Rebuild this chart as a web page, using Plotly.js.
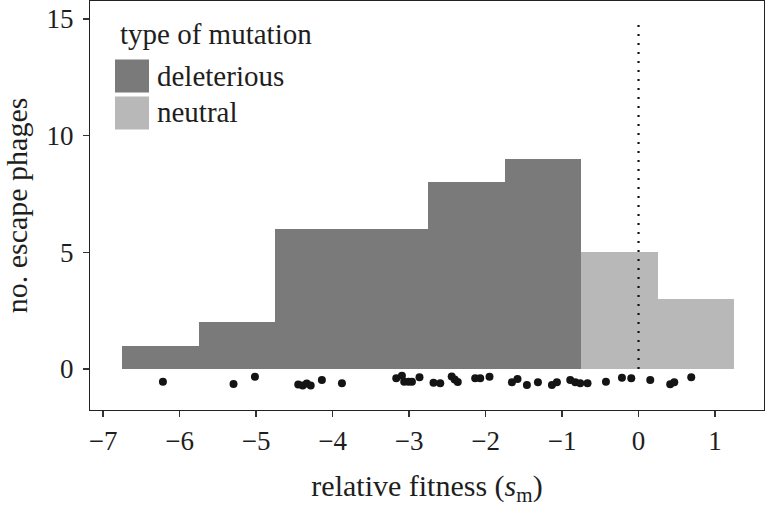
<!DOCTYPE html>
<html>
<head>
<meta charset="utf-8">
<script src="https://cdn.plot.ly/plotly-3.0.1.min.js"></script>
<style>html,body{margin:0;padding:0;background:#fff;}#chart{width:765px;height:509px;}</style>
</head>
<body>
<div id="chart"></div>
<script>
// relative fitness of each escape phage
var deleteriousFitness = [-6.217, -5.294, -5.014, -4.448, -4.390, -4.337, -4.285, -4.139, -3.877,
  -3.167, -3.093, -3.063, -3.007, -2.962, -2.863, -2.680, -2.592, -2.442, -2.403, -2.363,
  -2.135, -2.069, -1.948, -1.655, -1.582, -1.459, -1.315, -1.132, -1.067, -0.893, -0.827, -0.762];
var deleteriousJitter = [-0.544, -0.643, -0.330, -0.664, -0.707, -0.621, -0.707, -0.471, -0.613,
  -0.399, -0.287, -0.544, -0.544, -0.544, -0.356, -0.587, -0.613, -0.321, -0.450, -0.557,
  -0.399, -0.399, -0.330, -0.570, -0.429, -0.686, -0.570, -0.686, -0.570, -0.471, -0.570, -0.613];
var neutralFitness = [-0.667, -0.426, -0.217, -0.095, 0.153, 0.414, 0.467, 0.689];
var neutralJitter = [-0.613, -0.544, -0.373, -0.399, -0.471, -0.656, -0.570, -0.356];
var typeLabels = ["deleterious", "neutral"];
var legendTitle = "type of mutation";
var xTicks = [-7, -6, -5, -4, -3, -2, -1, 0, 1];
var yTicks = [0, 5, 10, 15];

var colDel = "#7a7a7a", colNeu = "#b8b8b8";
var serif = "Liberation Serif, Times New Roman, serif";
var txt = "#1e1e1e";
var bins = {start: -6.75, end: 1.25, size: 1};

var traces = [
  {type: "histogram", x: deleteriousFitness, xbins: bins, autobinx: false,
   marker: {color: colDel, line: {width: 0}}, name: typeLabels[0], hoverinfo: "skip"},
  {type: "histogram", x: neutralFitness, xbins: bins, autobinx: false,
   marker: {color: colNeu, line: {width: 0}}, name: typeLabels[1], hoverinfo: "skip"},
  {type: "scatter", mode: "markers", x: deleteriousFitness.concat(neutralFitness),
   y: deleteriousJitter.concat(neutralJitter),
   marker: {color: "#141414", size: 8}, hoverinfo: "skip"}
];

function px2x(p){ return (p - 90) / 674; }
function px2y(p){ return (410 - p) / 409; }

var layout = {
  width: 765, height: 509,
  margin: {l: 90, r: 1, t: 1, b: 99},
  paper_bgcolor: "#fff", plot_bgcolor: "#fff",
  showlegend: false,
  barmode: "overlay", bargap: 0,
  font: {family: serif, size: 27, color: txt},
  xaxis: {
    range: [-7.17, 1.64], tickvals: xTicks, ticktext: xTicks.map(function(v){return v < 0 ? "\u2212" + (-v) : String(v);}),
    showgrid: false, zeroline: false, showline: true, mirror: true, linecolor: "#222", linewidth: 1.2,
    ticks: "outside", ticklen: 6, tickcolor: "#333", tickwidth: 1.2,
    tickfont: {family: serif, size: 27, color: txt}, ticklabelstandoff: 0,
    title: {text: "relative fitness (<i>s</i><sub>m</sub>)", font: {family: serif, size: 30, color: txt}, standoff: 20}
  },
  yaxis: {
    range: [-1.76, 15.77], tickvals: yTicks,
    showgrid: false, zeroline: false, showline: true, mirror: true, linecolor: "#222", linewidth: 1.2,
    ticks: "outside", ticklen: 6, tickcolor: "#333", tickwidth: 1.2,
    tickfont: {family: serif, size: 27, color: txt}, ticklabelstandoff: 4,
    title: {text: "no. escape phages", font: {family: serif, size: 30, color: txt}, standoff: 12}
  },
  shapes: [
    {type: "line", xref: "x", yref: "y", x0: 0, x1: 0, y0: 0, y1: 14.9,
     line: {color: "#111", width: 2.2, dash: "2px,7px"}},
    {type: "rect", xref: "paper", yref: "paper", x0: px2x(115), x1: px2x(149), y0: px2y(92.5), y1: px2y(59.5),
     fillcolor: colDel, line: {width: 0}},
    {type: "rect", xref: "paper", yref: "paper", x0: px2x(115), x1: px2x(149), y0: px2y(129.5), y1: px2y(96.5),
     fillcolor: colNeu, line: {width: 0}}
  ],
  annotations: [
    {xref: "paper", yref: "paper", x: px2x(118), y: px2y(34), xanchor: "left", yanchor: "middle",
     text: legendTitle, showarrow: false, font: {family: serif, size: 29, color: txt}},
    {xref: "paper", yref: "paper", x: px2x(155), y: px2y(76), xanchor: "left", yanchor: "middle",
     text: typeLabels[0], showarrow: false, font: {family: serif, size: 29, color: txt}},
    {xref: "paper", yref: "paper", x: px2x(155), y: px2y(112), xanchor: "left", yanchor: "middle",
     text: typeLabels[1], showarrow: false, font: {family: serif, size: 29, color: txt}}
  ]
};

Plotly.newPlot("chart", traces, layout, {staticPlot: true, displayModeBar: false});
</script>
</body>
</html>
